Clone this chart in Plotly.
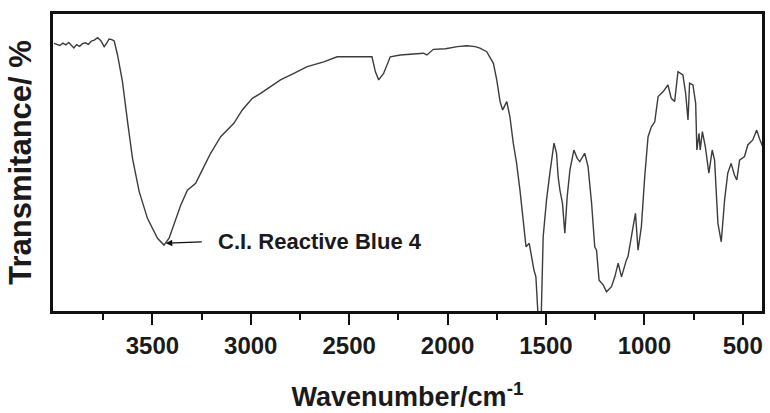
import plotly.graph_objects as go

# Wavenumber (cm^-1) and transmittance (arbitrary %)
wavenumber = [4000, 3985, 3970, 3955, 3940, 3925, 3910, 3899, 3885, 3870, 3855, 3840, 3825,
              3810, 3795, 3778, 3762, 3745, 3732, 3720, 3706, 3694, 3677, 3652, 3626, 3601,
              3567, 3525, 3474, 3441, 3415, 3373, 3356, 3322, 3280, 3238, 3204, 3153, 3086,
              3043, 2992, 2950, 2900, 2849, 2781, 2713, 2629, 2561, 2477, 2384, 2367, 2350,
              2325, 2291, 2240, 2180, 2122, 2105, 2072, 2010, 1950, 1902, 1860, 1835, 1801,
              1767, 1750, 1733, 1720, 1699, 1683, 1666, 1649, 1632, 1615, 1601, 1585, 1573,
              1561, 1551, 1544, 1538, 1530, 1524, 1514, 1497, 1480, 1466, 1459, 1446, 1438,
              1429, 1416, 1404, 1392, 1378, 1358, 1341, 1328, 1303, 1286, 1268, 1252, 1243,
              1230, 1209, 1192, 1167, 1150, 1133, 1116, 1091, 1083, 1057, 1045, 1032, 1015,
              998, 981, 964, 947, 930, 905, 880, 863, 846, 829, 804, 790, 778, 770, 753,
              739, 733, 722, 716, 705, 690, 672, 655, 643, 626, 609, 592, 576, 559, 542,
              530, 516, 491, 474, 449, 429, 415, 398]
transmittance = [90.1, 89.8, 89.4, 90.2, 89.6, 90.4, 89.2, 88.6, 89.7, 89.1, 90.0, 90.3, 89.8,
                 90.9, 91.2, 92.0, 91.0, 89.0, 90.2, 91.6, 91.4, 90.9, 86.2, 77.2, 63.7, 51.4,
                 40.2, 31.2, 24.5, 22.2, 24.5, 32.3, 35.6, 40.7, 43.0, 48.6, 53.1, 58.7, 63.2,
                 67.7, 71.6, 73.3, 75.5, 77.8, 80.0, 82.3, 83.9, 85.6, 85.6, 85.6, 80.6, 77.8,
                 80.0, 85.6, 86.2, 86.5, 86.8, 86.2, 88.1, 88.3, 89.0, 89.3, 89.0, 88.5, 87.3,
                 83.4, 77.8, 70.5, 67.7, 70.5, 65.4, 56.5, 49.7, 40.7, 29.5, 21.6, 22.8, 18.3,
                 13.8, 11.5, 0.0, -4.0, -6.0, -2.0, 25.0, 37.4, 46.4, 54.2, 56.5, 53.1, 45.2,
                 40.7, 36.3, 26.2, 38.5, 47.5, 54.2, 51.4, 50.3, 53.1, 48.6, 36.3, 21.6, 20.5,
                 10.4, 8.8, 6.5, 8.2, 11.5, 16.1, 11.5, 17.2, 18.3, 28.4, 32.9, 20.5, 28.4,
                 45.2, 58.7, 62.0, 63.7, 72.2, 73.8, 76.1, 71.6, 70.5, 80.6, 79.5, 73.3, 64.3,
                 76.7, 76.1, 69.9, 54.2, 59.8, 54.2, 60.4, 55.3, 46.4, 54.2, 50.8, 29.5, 23.3,
                 37.4, 46.4, 49.7, 45.8, 44.1, 50.8, 52.0, 55.9, 57.6, 60.9, 58.1, 55.3]

major_ticks = [3500, 3000, 2500, 2000, 1500, 1000, 500]
minor_ticks = [3750, 3250, 2750, 2250, 1750, 1250, 750]

label_text = "C.I. Reactive Blue 4"
label_at = (3432, 22.8)

font_family = "Arial, Liberation Sans, sans-serif"

fig = go.Figure()
fig.add_trace(go.Scatter(x=wavenumber, y=transmittance, mode="lines",
                         line=dict(color="#3c3c3c", width=1.4), showlegend=False))

fig.add_annotation(x=label_at[0], y=label_at[1], text=label_text,
                   showarrow=True, arrowhead=2, arrowsize=1, arrowwidth=1.3,
                   arrowcolor="#111111", axref="pixel", ayref="pixel", ax=50, ay=-2,
                   startstandoff=14,
                   xanchor="left", yanchor="middle",
                   font=dict(family=font_family, size=22, color="#1a1a1a", weight="bold"))

fig.update_layout(
    width=770, height=413,
    margin=dict(l=53, r=5, t=14, b=102),
    paper_bgcolor="white", plot_bgcolor="white",
    font=dict(family=font_family, color="#1a1a1a"),
    xaxis=dict(range=[4005, 402], showgrid=False, zeroline=False,
               showline=True, linecolor="#111111", linewidth=2.5, mirror=True,
               tickmode="array", tickvals=major_ticks, ticks="outside", ticklen=11,
               tickwidth=2, tickcolor="#111111",
               tickfont=dict(family=font_family, size=24, color="#1a1a1a", weight="bold"),
               minor=dict(tickmode="array", tickvals=minor_ticks, ticks="outside",
                          ticklen=6, tickwidth=2, tickcolor="#111111"),
               title=dict(text="Wavenumber/cm<sup>-1</sup>", standoff=30,
                          font=dict(family=font_family, size=27, color="#1a1a1a", weight="bold"))),
    yaxis=dict(range=[0, 100], showgrid=False, zeroline=False, showticklabels=False,
               ticks="", showline=True, linecolor="#111111", linewidth=2.5, mirror=True,
               title=dict(text="Transmitance/ %", standoff=10,
                          font=dict(family=font_family, size=31, color="#1a1a1a", weight="bold"))),
)

fig.write_html("out.html")
